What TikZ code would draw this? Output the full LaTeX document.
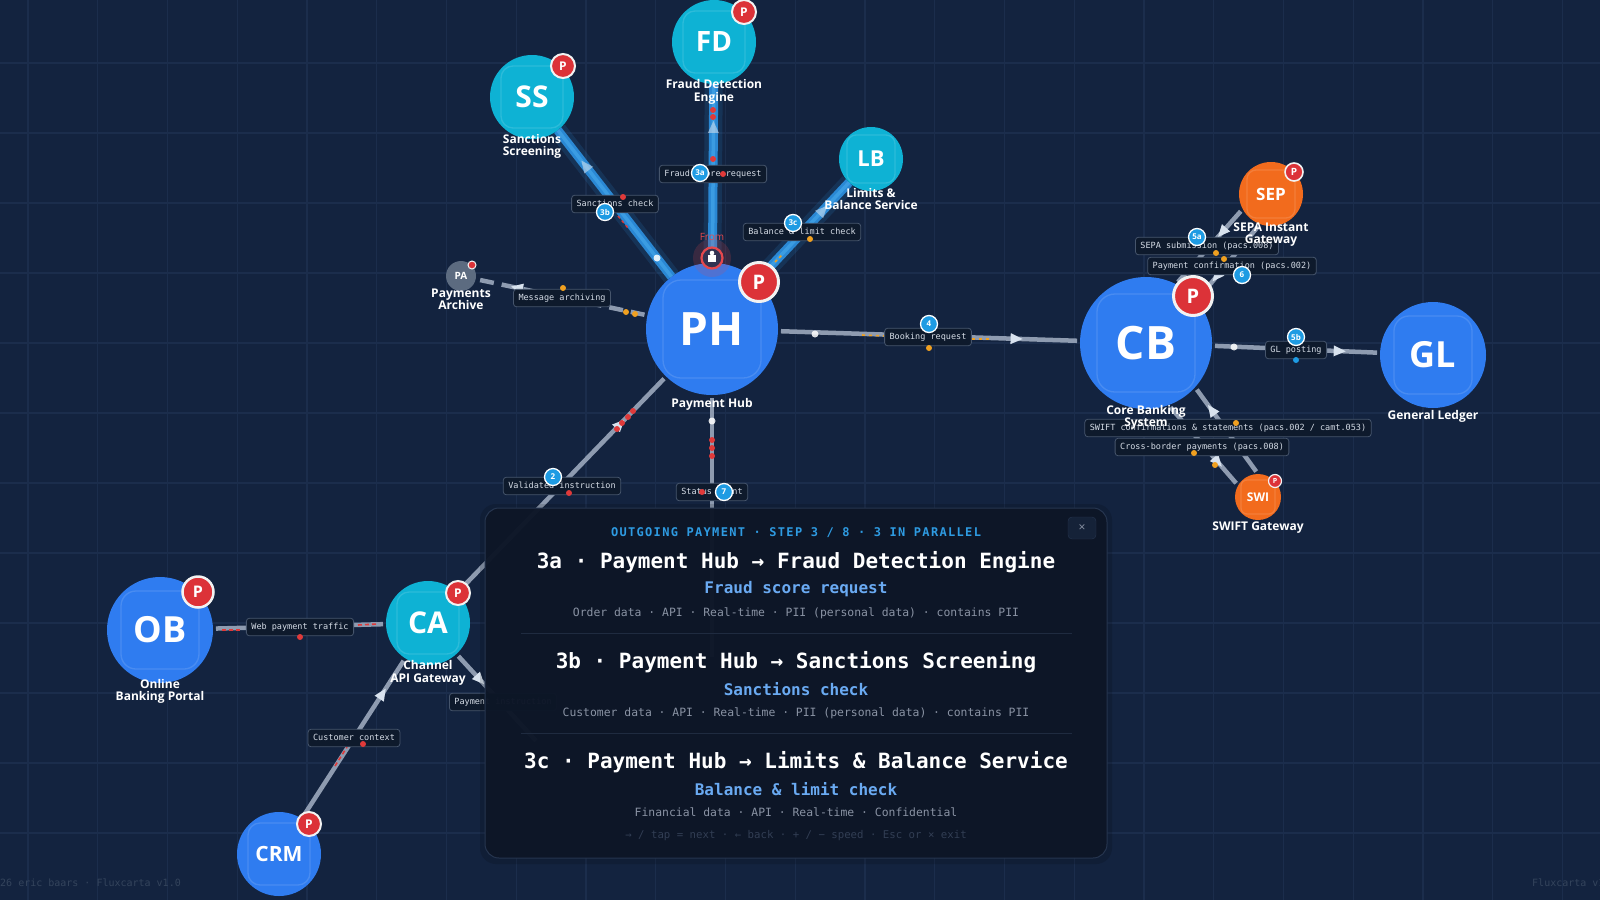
\documentclass[tikz,border=0pt]{standalone}
\usepackage{fontspec}
\setmainfont{Open Sans}
\newfontfamily\monofont{DejaVu Sans Mono}
\newfontfamily\monohdr{DejaVu Sans Mono}[LetterSpace=11]
\usetikzlibrary{arrows.meta,decorations.markings}
\definecolor{bg}{HTML}{13233F}
\definecolor{gridc}{HTML}{1B2D4C}
\definecolor{nblue}{HTML}{2F7CF0}
\definecolor{ncyan}{HTML}{0EB2D4}
\definecolor{norange}{HTML}{F26B1D}
\definecolor{ngrey}{HTML}{5C6B80}
\definecolor{pred}{HTML}{DC3238}
\definecolor{ringc}{HTML}{F2F2F2}
\definecolor{edgec}{HTML}{8E9BB0}
\definecolor{hiedge}{HTML}{2A88D4}
\definecolor{hiedge2}{HTML}{4AADEE}
\definecolor{arrowc}{HTML}{D8E2EE}
\definecolor{lblbg}{HTML}{0E1A2C}
\definecolor{lblbd}{HTML}{46556C}
\definecolor{lbltx}{HTML}{D5DCE6}
\definecolor{badgec}{HTML}{1E9BE3}
\definecolor{panelbg}{HTML}{0D1627}
\definecolor{panelbd}{HTML}{26354F}
\definecolor{sepc}{HTML}{1F2B40}
\definecolor{hdrc}{HTML}{2E9BE2}
\definecolor{subc}{HTML}{6AAAF2}
\definecolor{metac}{HTML}{8A93A4}
\definecolor{hintc}{HTML}{323E54}
\definecolor{footc}{HTML}{34445C}
\definecolor{flowo}{HTML}{F0A020}
\definecolor{flowr}{HTML}{E03A3A}
\definecolor{fromred}{HTML}{E5484D}
\definecolor{closebg}{HTML}{152238}
\newcommand\fsz[1]{\fontsize{#1}{#1}\selectfont}
\newcommand\insq[3]{\draw[white,opacity=0.13,line width=1.3pt,rounded corners=#3] ([shift={(-#2,-#2)}]#1.center) rectangle ([shift={(#2,#2)}]#1.center);}
\pgfdeclarelayer{bgl}
\pgfdeclarelayer{edgel}
\pgfdeclarelayer{topl}
\pgfsetlayers{bgl,edgel,main,topl}
\tikzset{
  nd/.style args={#1/#2}{circle, fill=#2, minimum size=#1, inner sep=0pt, outer sep=0pt, text=white},
  nlab/.style={text=white, font=\bfseries\fontsize{12}{12.5}\selectfont, align=center, inner sep=0pt},
  pb/.style args={#1/#2}{circle, fill=pred, draw=ringc, line width=#2, minimum size=#1, inner sep=0pt, text=white},
  ge/.style={draw=edgec, line width=4.5pt, shorten <=3pt, shorten >=3pt},
  higlow/.style={draw=hiedge, line width=18pt, opacity=0.16},
  hi/.style={draw=hiedge, line width=9pt},
  hiin/.style={draw=hiedge2, line width=3.5pt, opacity=0.55},
  arr/.style={postaction={decorate, decoration={markings, mark=at position #1 with {\fill[arrowc] (6,0) -- (-6,5.5) -- (-6,-5.5) -- cycle;}}}},
  elab/.style={fill=lblbg, draw=lblbd, line width=0.8pt, rounded corners=3pt, inner xsep=5pt, inner ysep=4.5pt, text height=6.5pt, text depth=2pt, text=lbltx, font=\monofont\fontsize{8.5}{9}\selectfont},
  numb/.style={circle, fill=badgec, draw=white, line width=1.3pt, minimum size=17, inner sep=0pt, text=white, font=\bfseries\fontsize{8}{8}\selectfont},
}
\begin{document}
\begin{tikzpicture}[x=1pt,y=-1pt]
\useasboundingbox (0,0) rectangle (1600,900);
\begin{pgfonlayer}{bgl}
\fill[bg] (0,0) rectangle (1600,900);
\foreach \gx in {28,97.75,...,1600} \draw[gridc, line width=1.2pt] (\gx,0) -- (\gx,900);
\foreach \gy in {63,133,...,900} \draw[gridc, line width=1.2pt] (0,\gy) -- (1600,\gy);
\end{pgfonlayer}

% ---------- nodes ----------
\node[nd=132/nblue, font=\bfseries\fsz{46}] (ph) at (712,329) {PH};
\node[nd=132/nblue, font=\bfseries\fsz{46}] (cb) at (1146,343) {CB};
\node[nd=106/nblue, font=\bfseries\fsz{36}] (gl) at (1433,355) {GL};
\node[nd=106/nblue, font=\bfseries\fsz{36}] (ob) at (160,630) {OB};
\node[nd=84/nblue, font=\bfseries\fsz{21}] (crm) at (279,854) {CRM};
\node[nd=84/ncyan, font=\bfseries\fsz{28}] (fd) at (714,42) {FD};
\node[nd=84/ncyan, font=\bfseries\fsz{30}] (ss) at (532,97) {SS};
\node[nd=84/ncyan, font=\bfseries\fsz{30}] (ca) at (428,623) {CA};
\node[nd=64/ncyan, font=\bfseries\fsz{22}] (lb) at (871,159) {LB};
\node[nd=64/norange, font=\bfseries\fsz{17}] (sep) at (1271,194) {SEP};
\node[nd=46/norange, font=\bfseries\fsz{12}] (swi) at (1258,497) {SWI};
\node[nd=30/ngrey, font=\bfseries\fsz{10}] (pa) at (461,276) {PA};
\insq{ph}{49}{18pt}\insq{cb}{49}{18pt}\insq{gl}{39}{15pt}\insq{ob}{39}{15pt}
\insq{crm}{31}{12pt}\insq{fd}{31}{12pt}\insq{ss}{31}{12pt}\insq{ca}{31}{12pt}
\insq{lb}{24}{9pt}\insq{sep}{24}{9pt}\insq{swi}{17}{6pt}

\coordinate (phdown) at (712,660);
\coordinate (payend) at (538,743);

% ---------- edges ----------
\begin{pgfonlayer}{edgel}
\draw[higlow] (ph) -- (ss);
\draw[higlow] (ph) -- (fd);
\draw[higlow] (ph) -- (lb);
\draw[hi] (ph) -- (ss);
\draw[hi] (ph) -- (fd);
\draw[hi] (ph) -- (lb);
\draw[hiin, arr=0.76] (ph) -- (ss);
\draw[hiin, arr=0.76] (ph) -- (fd);
\draw[hiin, arr=0.72] (ph) -- (lb);

\draw[ge, dash pattern=on 14pt off 8pt, arr=0.76] (ph) -- (pa);
\draw[ge, arr=0.79] (ph) -- (cb);
\draw[ge, arr=0.76] (cb) -- (gl);
\draw[ge, arr=0.78] (ca) -- (ph);
\draw[ge, arr=0.78] (crm) -- (ca);
\draw[ge] (ob) -- (ca);
\draw[ge] (ph) -- (phdown);
\draw[ge, arr=0.29] (ca) -- (payend);
\draw[ge, arr=0.31] (sep.208) -- (cb.63);
\draw[ge, arr=0.69] (sep.250) -- (cb.40);
\draw[ge, arr=0.71] (cb.-70) -- (swi.150);
\draw[ge, arr=0.74] (swi.90) -- (cb.-42);

% flow marks
\draw[flowr, line width=1.6pt, dash pattern=on 4pt off 3pt] (222,630) -- (240,630);
\draw[flowr, line width=1.6pt, dash pattern=on 4pt off 3pt] (358,625) -- (378,624);
\draw[flowr, line width=1.6pt, dash pattern=on 4pt off 3pt] (335,766) -- (347,747);
\draw[flowr, line width=1.4pt, dash pattern=on 3pt off 3pt] (618,216) -- (628,228);
\draw[flowo, line width=1.6pt, dash pattern=on 3pt off 4pt] (862,335) -- (886,336);
\draw[flowo, line width=1.6pt, dash pattern=on 3pt off 4pt] (972,339) -- (990,339);
\draw[flowo, line width=1.6pt, dash pattern=on 3pt off 3pt] (775,262) -- (782,255);

% edge labels
\node[elab] (lmsg) at (562,298) {Message archiving};
\node[elab] (lfrd) at (713,174) {Fraud score request};
\node[elab] (lsnc) at (615,204) {Sanctions check};
\node[elab] (lbal) at (802,232) {Balance \& limit check};
\node[elab] (lval) at (562,486) {Validated instruction};
\node[elab] (lsta) at (712,492) {Status event};
\node[elab] (lbk) at (928,337) {Booking request};
\node[elab] (lgl) at (1296,350) {GL posting};
\node[elab] (lsepa) at (1207,246) {SEPA submission (pacs.008)};
\node[elab] (lconf) at (1232,266) {Payment confirmation (pacs.002)};
\node[elab] (lswc) at (1228,428) {SWIFT confirmations \& statements (pacs.002 / camt.053)};
\node[elab] (lxb) at (1202,447) {Cross-border payments (pacs.008)};
\node[elab] (lweb) at (300,627) {Web payment traffic};
\node[elab] (lcust) at (354,738) {Customer context};
\node[elab, anchor=west] (lpay) at (449,702) {Payment instruction};

% flow dots
\foreach \p in {(713,110),(713,117),(713,159),(723,174),(623,197),(569,493),(622,423),(628,417),(633,411),(617,429),(712,440),(712,448),(712,456),(702,492),(300,637),(363,744)}
  \fill[flowr] \p circle (3);
\foreach \p in {(563,288),(626,312),(635,314),(810,239),(929,348),(1216,253),(1224,259),(1236,423),(1194,453),(1215,465)}
  \fill[flowo] \p circle (3);
\foreach \p in {(657,258),(815,334),(1234,347),(712,421)}
  \fill[white, opacity=0.85] \p circle (3.5);
\fill[badgec] (1296,360) circle (3);

% step badges
\node[numb] (n3a) at (700,173) {3a};
\node[numb] (n3b) at (605,212) {3b};
\node[numb] (n3c) at (793,223) {3c};
\node[numb] (n2) at (553,477) {2};
\node[numb] (n7) at (724,492) {7};
\node[numb] (n4) at (929,324) {4};
\node[numb] (n5b) at (1296,337) {5b};
\node[numb] (n5a) at (1197,237) {5a};
\node[numb] (n6) at (1242,275) {6};
\end{pgfonlayer}

% ---------- node labels ----------
\node[nlab] (tph) at (712,404) {Payment Hub};
\node[nlab] (tcb) at (1146,417.5) {Core Banking\\System};
\node[nlab] (tgl) at (1433,416) {General Ledger};
\node[nlab] (tob) at (160,691.5) {Online\\Banking Portal};
\node[nlab] (tca) at (428,673) {Channel\\API Gateway};
\node[nlab] (tfd) at (714,92) {Fraud Detection\\Engine};
\node[nlab] (tss) at (532,146.5) {Sanctions\\Screening};
\node[nlab] (tlb) at (871,199) {Limits \&\\Balance Service};
\node[nlab] (tsep) at (1271,234.5) {SEPA Instant\\Gateway};
\node[nlab] (tswi) at (1258,528) {SWIFT Gateway};
\node[nlab] (tpa) at (461,299.5) {Payments\\Archive};

% ---------- P badges ----------
\node[pb=39/3pt, font=\bfseries\fsz{20}] (pph) at (759,282) {P};
\node[pb=39/3pt, font=\bfseries\fsz{20}] (pcb) at (1193,296) {P};
\node[pb=31/2.5pt, font=\bfseries\fsz{16}] (pob) at (198,592) {P};
\node[pb=24/2pt, font=\bfseries\fsz{12}] (pfd) at (744,12) {P};
\node[pb=24/2pt, font=\bfseries\fsz{12}] (pss) at (563,66) {P};
\node[pb=24/2pt, font=\bfseries\fsz{12}] (pca) at (458,593) {P};
\node[pb=24/2pt, font=\bfseries\fsz{12}] (pcrm) at (309,824) {P};
\node[pb=18/1.6pt, font=\bfseries\fsz{10}] (psep) at (1294,172) {P};
\node[pb=13/1.2pt, font=\bfseries\fsz{7}] (pswi) at (1275,481) {P};
\node[pb=8/1pt] (ppa) at (472,265) {};

% ---------- From marker ----------
\fill[fromred, opacity=0.18] (712,258) circle (19);
\node[circle, fill=black!80!blue!60!gray, draw=fromred, line width=2.2pt, minimum size=21, inner sep=0pt] (frommk) at (712,258) {};
\fill[white] (708,255) rectangle (716,262);
\fill[white] (712,253) circle (2.3);
\node[text=fromred, font=\fsz{10}] (fromtx) at (712,237) {From};

% ---------- panel ----------
\begin{pgfonlayer}{topl}
\fill[black, opacity=0.14, rounded corners=16pt] (480,504) rectangle (1112,864);
\fill[panelbg, opacity=0.97, rounded corners=14pt] (485,508) rectangle (1107,858);
\draw[panelbd, line width=1pt, rounded corners=14pt] (485,508) rectangle (1107,858);
\node[draw=panelbd, fill=closebg, rounded corners=4pt, minimum width=28, minimum height=22, inner sep=0pt, text=metac, font=\fsz{12}] (closebtn) at (1082,528) {×};
\node[font=\monohdr\bfseries\fsz{12}, text=hdrc] (phdr) at (796,533) {OUTGOING PAYMENT · STEP 3 / 8 · 3 IN PARALLEL};
\node[font=\monofont\bfseries\fsz{21}, text=white] (t3a) at (796,562) {3a · Payment Hub → Fraud Detection Engine};
\node[font=\monofont\bfseries\fsz{16}, text=subc] (s3a) at (796,589) {Fraud score request};
\node[font=\monofont\fsz{11.4}, text=metac] (m3a) at (796,613) {Order data · API · Real-time · PII (personal data) · contains PII};
\draw[sepc, line width=1pt] (521,633) -- (1072,633);
\node[font=\monofont\bfseries\fsz{21}, text=white] (t3b) at (796,662) {3b · Payment Hub → Sanctions Screening};
\node[font=\monofont\bfseries\fsz{16}, text=subc] (s3b) at (796,689) {Sanctions check};
\node[font=\monofont\fsz{11.4}, text=metac] (m3b) at (796,713) {Customer data · API · Real-time · PII (personal data) · contains PII};
\draw[sepc, line width=1pt] (521,733) -- (1072,733);
\node[font=\monofont\bfseries\fsz{21}, text=white] (t3c) at (796,762) {3c · Payment Hub → Limits \& Balance Service};
\node[font=\monofont\bfseries\fsz{16}, text=subc] (s3c) at (796,789) {Balance \& limit check};
\node[font=\monofont\fsz{11.4}, text=metac] (m3c) at (796,812) {Financial data · API · Real-time · Confidential};
\node[font=\monofont\fsz{10.7}, text=hintc] (hint) at (796,836) {→ / tap = next · ← back · + / − speed · Esc or × exit};
% footer
\node[anchor=west, inner sep=0pt, font=\monofont\fsz{10}, text=footc] (foot1) at (0,883) {26 eric baars · Fluxcarta v1.0};
\node[anchor=west, inner sep=0pt, font=\monofont\fsz{10}, text=footc] (foot2) at (1532,883) {Fluxcarta v1.0};
\end{pgfonlayer}
\end{tikzpicture}
\end{document}
